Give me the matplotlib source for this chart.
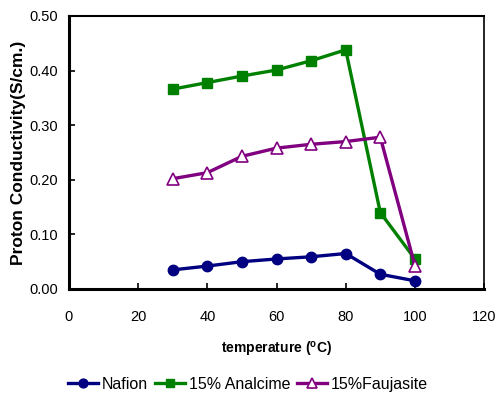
import matplotlib
matplotlib.use("Agg")
import matplotlib.pyplot as plt

temps = [30, 40, 50, 60, 70, 80, 90, 100]
nafion = [0.035, 0.042, 0.050, 0.055, 0.059, 0.065, 0.027, 0.015]
analcime = [0.366, 0.378, 0.390, 0.401, 0.418, 0.438, 0.140, 0.055]
faujasite = [0.202, 0.213, 0.243, 0.258, 0.265, 0.270, 0.278, 0.043]
series_names = ["Nafion", "15% Analcime", "15%Faujasite"]
xticks = [0, 20, 40, 60, 80, 100, 120]
yticks = [0.0, 0.1, 0.2, 0.3, 0.4, 0.5]

plt.rcParams['font.family'] = ['Liberation Sans', 'DejaVu Sans']

fig = plt.figure(figsize=(4.96, 3.94), dpi=100)
ax = fig.add_axes([0.139, 0.2665, 0.837, 0.693])

ax.plot(temps, nafion, color="#000080", lw=2.4, marker="o", ms=7.5, label=series_names[0])
ax.plot(temps, analcime, color="#008000", lw=2.4, marker="s", ms=7.5, label=series_names[1])
ax.plot(temps, faujasite, color="#800080", lw=2.4, marker="^", ms=8,
        markerfacecolor="white", markeredgewidth=1.2, label=series_names[2])

ax.set_xlim(0, 120)
ax.set_ylim(0, 0.5)
ax.set_xticks(xticks)
ax.set_yticks(yticks)
ax.set_yticklabels([f"{v:.2f}" for v in yticks])
ax.tick_params(direction="in", length=4, width=1.2, labelsize=10.5)
ax.tick_params(axis="x", pad=15)
ax.tick_params(axis="y", pad=8)

for s in ["left", "bottom"]:
    ax.spines[s].set_linewidth(2.2)
ax.spines["top"].set_linewidth(1.5)
ax.spines["right"].set_linewidth(1.2)

ax.set_ylabel("Proton Conductivity(S/cm.)", fontsize=12.5, fontweight="bold", labelpad=2)
ax.set_xlabel(r"temperature ($^\mathregular{o}$C)", fontsize=10, fontweight="bold", labelpad=12)

leg = fig.legend(loc="center", bbox_to_anchor=(0.5, 0.024), ncol=3, frameon=False,
                 fontsize=11.5, handlelength=1.9, handletextpad=0.25, columnspacing=0.4,
                 borderaxespad=0, markerscale=0.85)

fig.savefig("out.png", dpi=100)
